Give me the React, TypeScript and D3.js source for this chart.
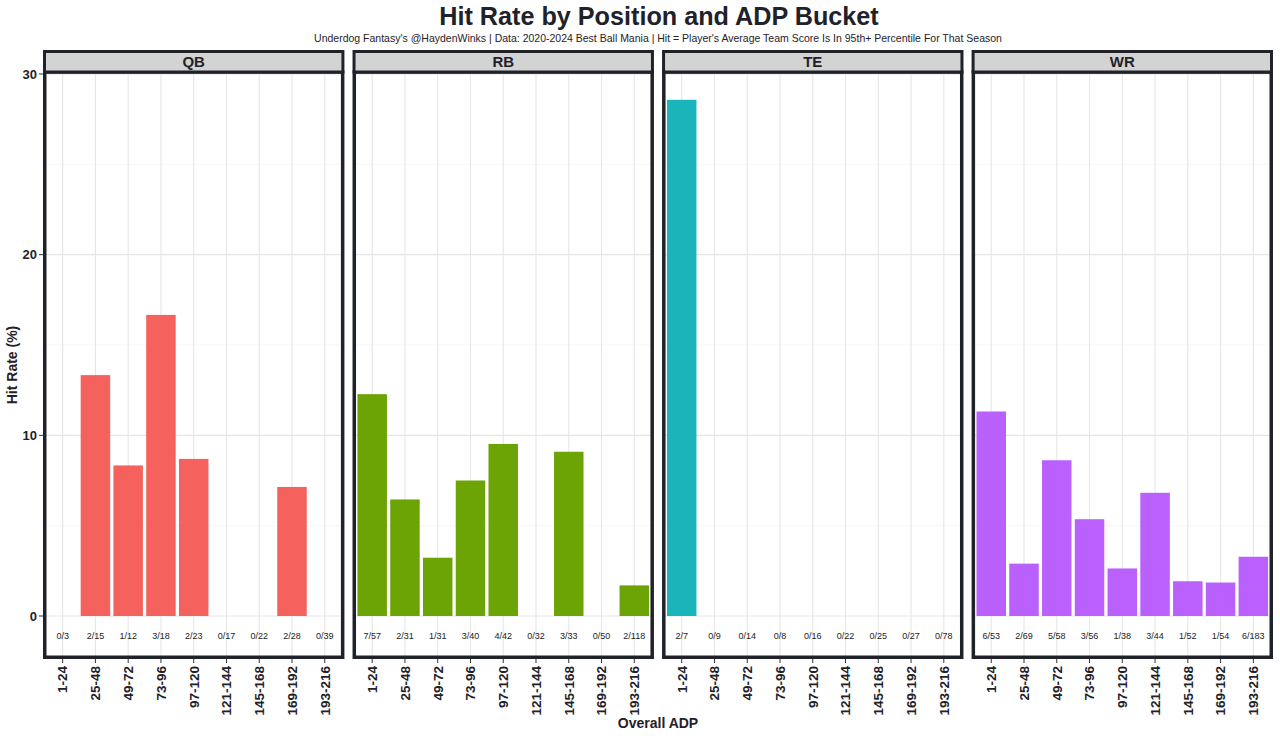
import React from "react";
import * as d3 from "d3";

const positions = ["QB", "RB", "TE", "WR"];
const buckets = ["1-24", "25-48", "49-72", "73-96", "97-120", "121-144", "145-168", "169-192", "193-216"];
const qbHits = [0, 2, 1, 3, 2, 0, 0, 2, 0];
const qbTotals = [3, 15, 12, 18, 23, 17, 22, 28, 39];
const rbHits = [7, 2, 1, 3, 4, 0, 3, 0, 2];
const rbTotals = [57, 31, 31, 40, 42, 32, 33, 50, 118];
const teHits = [2, 0, 0, 0, 0, 0, 0, 0, 0];
const teTotals = [7, 9, 14, 8, 16, 22, 25, 27, 78];
const wrHits = [6, 2, 5, 3, 1, 3, 1, 1, 6];
const wrTotals = [53, 69, 58, 56, 38, 44, 52, 54, 183];
const colors = ["#F5625D", "#6CA405", "#19B5BA", "#B960FD"];
const yTicks = [0, 10, 20, 30];
const yMinor = [5, 15, 25];

const hitsByPos = [qbHits, rbHits, teHits, wrHits];
const totalsByPos = [qbTotals, rbTotals, teTotals, wrTotals];

const W = 1280;
const H = 738;
const panelTop = 72;
const panelBottom = 659;
const stripTop = 50;
const dark = "#1f2229";
const font = "'Liberation Sans', Arial, Helvetica, sans-serif";

export default function App() {
  const fx = d3.scaleBand<string>().domain(positions).range([43, 1273]).paddingInner(0.0262);
  const y = d3.scaleLinear().domain([0, 30]).range([616, 74]);
  const pw = fx.bandwidth();

  return (
    <svg width={W} height={H} style={{ position: "absolute", left: 0, top: 0, background: "#fff" }} fontFamily={font}>
      <rect x={0} y={0} width={W} height={H} fill="#fff" />
      <text x={659} y={25} textAnchor="middle" fontSize={25.2} fontWeight="bold" fill={dark}>
        Hit Rate by Position and ADP Bucket
      </text>
      <text x={658} y={42} textAnchor="middle" fontSize={10.5} fill={dark}>
        Underdog Fantasy's @HaydenWinks | Data: 2020-2024 Best Ball Mania | Hit = Player's Average Team Score Is In 95th+ Percentile For That Season
      </text>

      {positions.map((pos, pi) => {
        const left = fx(pos)!;
        const x = d3.scalePoint<string>().domain(buckets).range([left, left + pw]).padding(0.6);
        const step = x.step();
        const bw = step * 0.9;
        const rates = hitsByPos[pi].map((h, i) => (100 * h) / totalsByPos[pi][i]);
        return (
          <g key={pos}>
            <rect x={left} y={panelTop} width={pw} height={panelBottom - panelTop} fill="#fff" />
            {yMinor.map((t) => (
              <line key={"m" + t} x1={left} x2={left + pw} y1={y(t)} y2={y(t)} stroke="#f2f2f2" strokeWidth={0.6} />
            ))}
            {yTicks.map((t) => (
              <line key={"g" + t} x1={left} x2={left + pw} y1={y(t)} y2={y(t)} stroke="#e6e6e6" strokeWidth={1.1} />
            ))}
            {buckets.map((b) => (
              <line key={"v" + b} x1={x(b)} x2={x(b)} y1={panelTop} y2={panelBottom} stroke="#e6e6e6" strokeWidth={1.1} />
            ))}
            {buckets.map((b, i) =>
              rates[i] > 0 ? (
                <rect
                  key={"b" + b}
                  x={x(b)! - bw / 2}
                  y={y(rates[i])}
                  width={bw}
                  height={y(0) - y(rates[i])}
                  fill={colors[pi]}
                />
              ) : null
            )}
            {buckets.map((b, i) => (
              <text key={"l" + b} x={x(b)} y={639} textAnchor="middle" fontSize={9} fill="#222">
                {hitsByPos[pi][i]}/{totalsByPos[pi][i]}
              </text>
            ))}
            <rect x={left + 1.75} y={panelTop} width={pw - 3.5} height={panelBottom - panelTop - 1.75} fill="none" stroke={dark} strokeWidth={3.5} />
            <rect x={left + 1.5} y={stripTop + 1.5} width={pw - 3} height={panelTop - stripTop - 1.5} fill="#d3d3d3" stroke={dark} strokeWidth={3} />
            <text x={left + pw / 2} y={67} textAnchor="middle" fontSize={15} fontWeight="bold" fill={dark}>
              {pos}
            </text>
            {buckets.map((b) => (
              <g key={"t" + b}>
                <line x1={x(b)} x2={x(b)} y1={panelBottom} y2={panelBottom + 4} stroke="#333" strokeWidth={1} />
                <text
                  transform={`translate(${x(b)! + 4.8},${panelBottom + 7}) rotate(-90)`}
                  textAnchor="end"
                  fontSize={13.5}
                  fontWeight="bold"
                  fill={dark}
                >
                  {b}
                </text>
              </g>
            ))}
          </g>
        );
      })}

      {yTicks.map((t) => (
        <g key={"yt" + t}>
          <line x1={39} x2={43} y1={y(t)} y2={y(t)} stroke="#333" strokeWidth={1} />
          <text x={37} y={y(t) + 4.5} textAnchor="end" fontSize={13} fontWeight="bold" fill={dark}>
            {t}
          </text>
        </g>
      ))}
      <text transform={`translate(17,365) rotate(-90)`} textAnchor="middle" fontSize={14} fontWeight="bold" fill={dark}>
        Hit Rate (%)
      </text>
      <text x={658} y={728} textAnchor="middle" fontSize={14} fontWeight="bold" fill={dark}>
        Overall ADP
      </text>
    </svg>
  );
}
